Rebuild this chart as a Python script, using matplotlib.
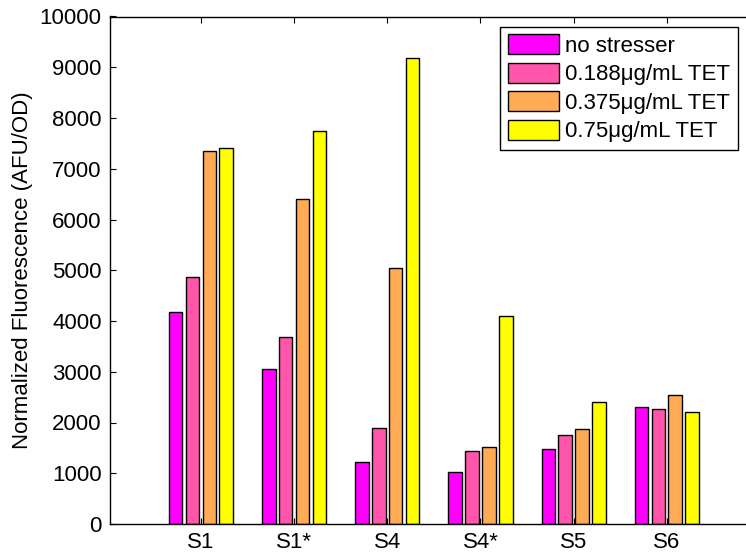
import matplotlib
matplotlib.use("Agg")
import matplotlib.pyplot as plt
import numpy as np

plt.rcParams['font.family'] = ['Liberation Sans', 'DejaVu Sans']

strains = ['S1', 'S1*', 'S4', 'S4*', 'S5', 'S6']
conditions = ['no stresser', '0.188\u03bcg/mL TET', '0.375\u03bcg/mL TET', '0.75\u03bcg/mL TET']
no_stress = [4180, 3060, 1230, 1020, 1470, 2300]
tet_0188 = [4870, 3680, 1900, 1430, 1750, 2270]
tet_0375 = [7340, 6400, 5050, 1510, 1870, 2540]
tet_075 = [7410, 7740, 9190, 4100, 2400, 2210]

# spring colormap sampled at 4 points
colors = ['#ff00ff', '#ff55aa', '#ffaa55', '#ffff00']

fig = plt.figure(figsize=(7.46, 5.52), dpi=100)
ax = fig.add_axes([110 / 746, 28 / 552, 1 - 110 / 746 + 0.01, (524 - 16.5) / 552])

x = np.arange(1, len(strains) + 1)
step = 0.181
width = 0.145
series = [no_stress, tet_0188, tet_0375, tet_075]
for i, (vals, col, lab) in enumerate(zip(series, colors, conditions)):
    ax.bar(x + (i - 1.5) * step, vals, width, color=col, edgecolor='black',
           linewidth=1.0, label=lab)

ax.set_xlim(0.024, 6.93)
ax.set_ylim(0, 10000)
ax.set_xticks(x)
ax.set_xticklabels(strains)
ax.set_yticks(np.arange(0, 10001, 1000))
ax.tick_params(direction='in', length=4, top=True, right=True, labelsize=16,
               width=0.8, pad=6)
for s in ax.spines.values():
    s.set_linewidth(1.0)
ax.set_ylabel('Normalized Fluorescence (AFU/OD)', fontsize=16, labelpad=5)

leg = ax.legend(loc='upper left', bbox_to_anchor=(500 / 746, 1 - 26.5 / 552),
                bbox_transform=fig.transFigure,
                fontsize=16, fancybox=False, edgecolor='black', framealpha=1,
                handlelength=2.3, handleheight=1.0, handletextpad=0.28,
                labelspacing=0.27, borderpad=0.35, borderaxespad=0)
leg.get_frame().set_linewidth(1.0)

fig.savefig('out.png', dpi=100)
